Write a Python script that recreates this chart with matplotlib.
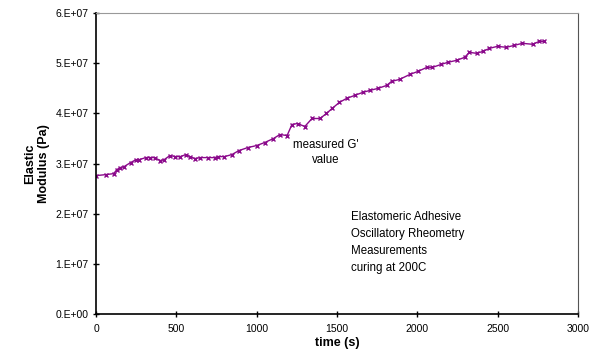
import matplotlib.pyplot as plt
from matplotlib.ticker import FuncFormatter

plt.rcParams['font.family'] = ['Liberation Sans', 'DejaVu Sans']

time_s = [0, 60, 110, 130, 150, 175, 215, 250, 270, 310,
          335, 365, 400, 425, 460, 495, 525, 560, 585, 615,
          650, 695, 740, 760, 800, 846, 890, 945, 1000, 1050,
          1105, 1145, 1190, 1220, 1255, 1300, 1345, 1395, 1435, 1470,
          1515, 1560, 1610, 1660, 1705, 1755, 1810, 1840, 1890, 1955,
          2005, 2060, 2095, 2150, 2190, 2245, 2295, 2325, 2370, 2410,
          2450, 2500, 2555, 2605, 2655, 2720, 2760, 2790]

g_prime = [2.76, 2.78, 2.80, 2.88, 2.92, 2.94, 3.02, 3.08, 3.08, 3.12,
           3.12, 3.12, 3.06, 3.08, 3.16, 3.14, 3.14, 3.18, 3.14, 3.10,
           3.12, 3.12, 3.12, 3.14, 3.14, 3.18, 3.26, 3.32, 3.36, 3.42,
           3.50, 3.58, 3.56, 3.78, 3.80, 3.74, 3.90, 3.90, 4.00, 4.10,
           4.22, 4.30, 4.36, 4.42, 4.46, 4.50, 4.56, 4.64, 4.68, 4.78,
           4.84, 4.92, 4.92, 4.98, 5.02, 5.06, 5.12, 5.22, 5.20, 5.24,
           5.30, 5.34, 5.32, 5.36, 5.40, 5.38, 5.44, 5.44]
g_prime = [v * 1e7 for v in g_prime]

x_ticks = [0, 500, 1000, 1500, 2000, 2500, 3000]
y_ticks = [0, 1e7, 2e7, 3e7, 4e7, 5e7, 6e7]


def excel_sci(v, pos):
    if v == 0:
        return '0.E+00'
    e = 7
    return f'{v / 10 ** e:.0f}.E+{e:02d}'


fig = plt.figure(figsize=(6, 3.58), dpi=100)
ax = fig.add_axes([0.16, 0.123, 0.803, 0.840])

ax.plot(time_s, g_prime, color='#8b0a8b', linewidth=1, marker='x',
        markersize=3.5, markeredgewidth=1)

ax.set_xlim(0, 3000)
ax.set_ylim(0, 6e7)
ax.set_xticks(x_ticks)
ax.set_yticks(y_ticks)
ax.yaxis.set_major_formatter(FuncFormatter(excel_sci))
ax.tick_params(direction='inout', length=5, width=1, labelsize=7.5, pad=3)
ax.tick_params(axis='x', pad=5)

for side in ['left', 'bottom']:
    ax.spines[side].set_color('black')
    ax.spines[side].set_linewidth(1.2)
ax.spines['top'].set_color('#999999')
ax.spines['right'].set_color('#555555')

ax.set_xlabel('time (s)', fontsize=9, fontweight='bold', labelpad=2)
ax.set_ylabel('Elastic\nModulus (Pa)', fontsize=9, fontweight='bold', labelpad=4)

ax.text(1430, 3.23e7, "measured G'\nvalue", fontsize=8.3, ha='center', va='center',
        linespacing=1.35)
ax.text(1585, 1.42e7, 'Elastomeric Adhesive\nOscillatory Rheometry\nMeasurements\ncuring at 200C',
        fontsize=8.3, ha='left', va='center', linespacing=1.55)

fig.savefig('out.png', dpi=100)
